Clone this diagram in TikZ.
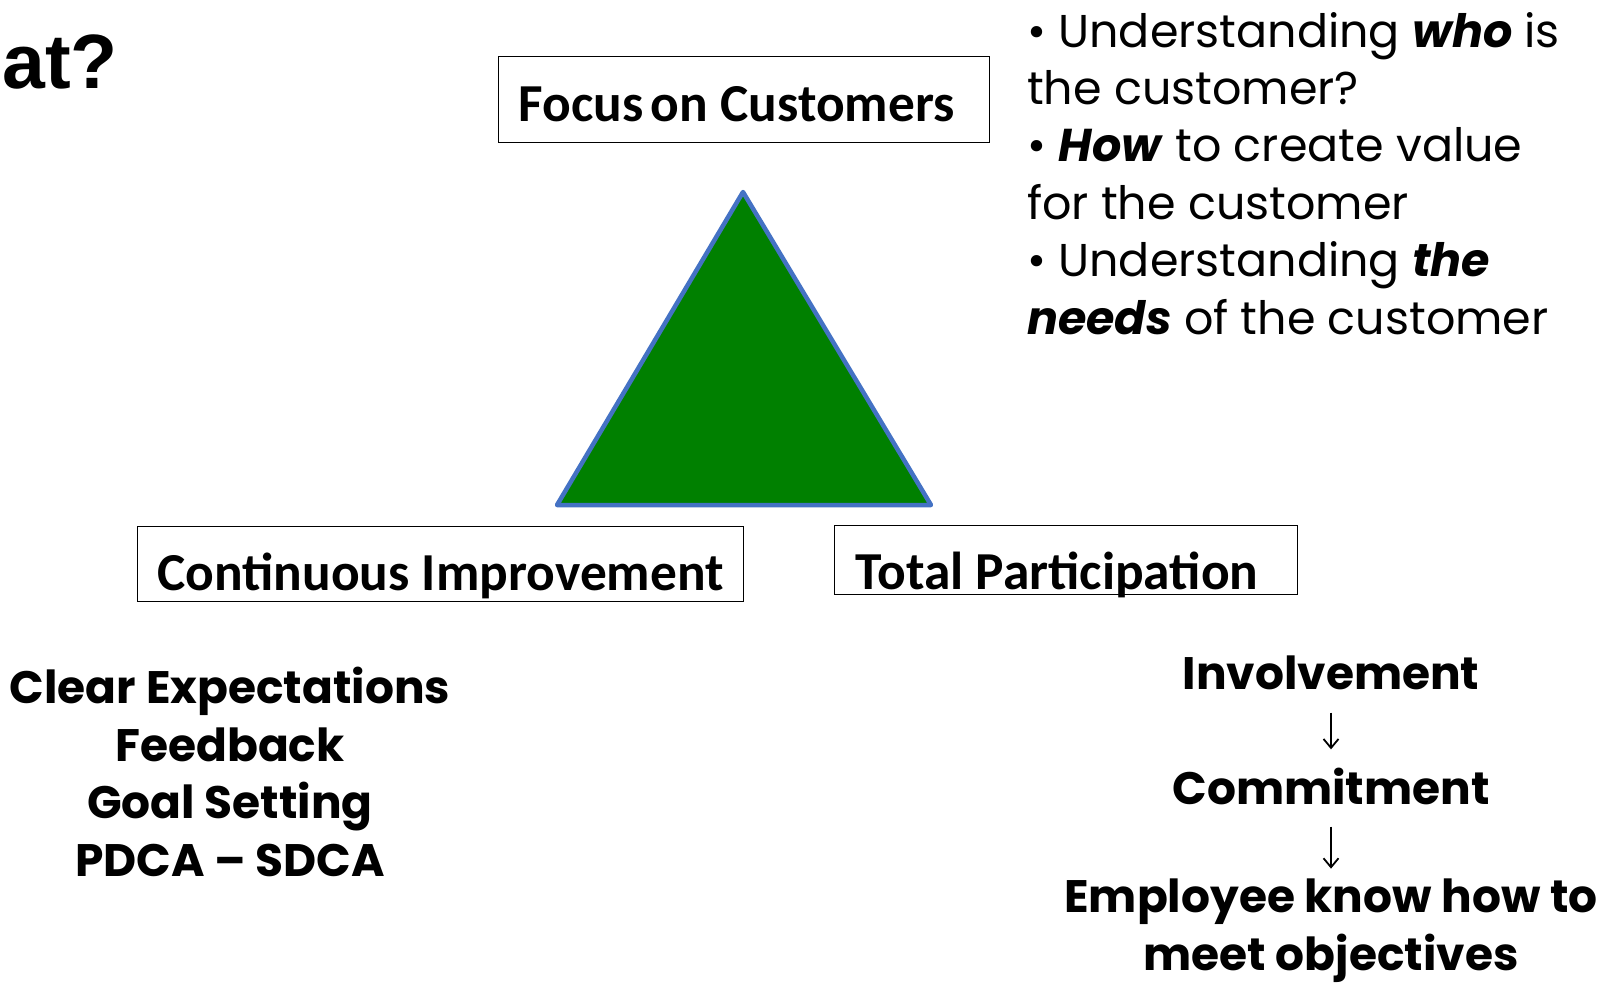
\documentclass[tikz,border=0pt]{standalone}
\usepackage{fontspec}
\setmainfont{Poppins}
\newfontfamily\calibri{Carlito}
\newfontfamily\arialfont{Liberation Sans}
\usetikzlibrary{arrows.meta}
\definecolor{triblue}{HTML}{4472C4}
\definecolor{trigreen}{HTML}{008000}
\tikzset{
  box/.style={draw, line width=1.3pt, inner xsep=16pt, text depth=0pt,
    font=\calibri\bfseries\fontsize{53.4}{60}\selectfont},
  tri/.style={draw=triblue, fill=trigreen, line width=4.5pt, line join=round},
  bullets/.style={align=left, inner sep=0pt, font=\fontsize{46}{57.4}\selectfont},
  plain/.style={align=center, inner sep=0pt, font=\bfseries\fontsize{45.5}{57.5}\selectfont},
  flow/.style={-{Straight Barb[length=9pt,width=15pt]}, line width=1.8pt}
}
\begin{document}
\begin{tikzpicture}[x=1pt,y=-1pt]
\useasboundingbox (0,0) rectangle (1619,983);
\node[anchor=base west, inner sep=0pt, font=\arialfont\bfseries\fontsize{77}{80}\selectfont] (title) at (2,88) {at?};
% the three corners
\node[box, text height=44pt, inner ysep=21pt, anchor=south west] (focus) at (498,143) {\makebox[459pt][l]{\hspace{4pt}Focus\hspace{0.14em}on Customers}};
\node[box, text height=53pt, inner ysep=11pt, anchor=south west] (improve) at (137,602) {\makebox[574pt][c]{Continuous Improvement}};
\node[box, text height=59pt, inner ysep=5pt, anchor=south west] (particip) at (834,595) {\makebox[431pt][l]{\hspace{5pt}Total Participation}};
\coordinate (apex) at (743,192);
\coordinate (baseR) at (931,505);
\coordinate (baseL) at (557,505);
\draw[tri] (apex) -- (baseR) -- (baseL) -- cycle;
% customer notes
\node[bullets, anchor=base west] (notes) at (1027,334) {\textbullet\ Understanding \textbf{\textit{who}} is\\the customer?\\\textbullet\ \textbf{\textit{How}} to create value\\for the customer\\\textbullet\ Understanding \textbf{\textit{the}}\\\textbf{\textit{needs}} of the customer};
\node[plain, anchor=base] (expect) at (230,876) {Clear Expectations\\Feedback\\Goal Setting\\PDCA -- SDCA};
% participation chain
\node[plain, anchor=base] (inv) at (1331,689) {Involvement};
\node[plain, anchor=base] (commit) at (1331,804) {Commitment};
\node[plain, anchor=base] (employ) at (1331,970) {Employee know how to\\meet objectives};
\draw[flow, shorten <=23pt, shorten >=18pt] (inv) -- (commit);
\draw[flow, shorten <=22pt, shorten >=10pt] (commit) -- (employ);
\end{tikzpicture}
\end{document}
